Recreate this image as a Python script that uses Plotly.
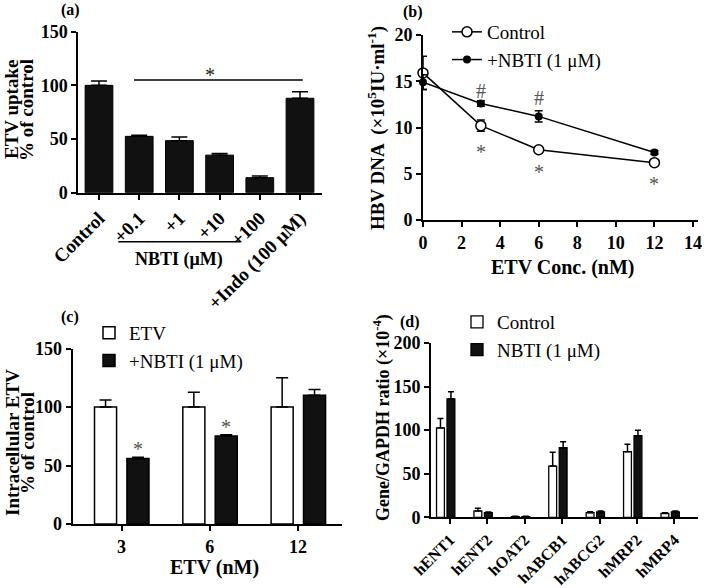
import plotly.graph_objects as go

# ---------------- data ----------------
a_categories = ["Control", "+0.1", "+1", "+10", "+100", "+Indo (100 μM)"]
a_values = [100, 52.5, 48.5, 35, 14, 88]
a_err = [4, 1, 3.5, 1.5, 1.5, 6]

b_conc = [0, 3, 6, 12]
b_control = [15.9, 10.2, 7.6, 6.2]
b_control_err = [1.8, 0.6, 0.2, 0.2]
b_nbti = [14.9, 12.6, 11.2, 7.3]
b_nbti_err = [0.8, 0.3, 0.6, 0.2]

c_categories = ["3", "6", "12"]
c_etv = [100, 100, 100]
c_etv_err = [6, 12.5, 25]
c_nbti = [56, 75.2, 110]
c_nbti_err = [1, 1, 5]

d_genes = ["hENT1", "hENT2", "hOAT2", "hABCB1", "hABCG2", "hMRP2", "hMRP4"]
d_control = [102.5, 7.3, 0.8, 58.8, 5.3, 75.3, 4.5]
d_control_err = [11, 3, 0.3, 15.7, 1.2, 8.4, 0.6]
d_nbti = [136, 5.3, 0.8, 79.8, 6.3, 93.6, 6.3]
d_nbti_err = [8, 0.8, 0.3, 7, 1, 6.2, 1]

W, H = 709, 588
SERIF = "Liberation Serif, Times New Roman, serif"


def px(x):
    return x / W


def py(y):
    return 1 - y / H


fig = go.Figure()

# ---------------- (a) ----------------
fig.add_trace(go.Bar(
    x=a_categories, y=a_values, width=0.69,
    marker=dict(color="#111111", line=dict(color="black", width=1)),
    error_y=dict(type="data", array=a_err, arrayminus=[0] * len(a_err), symmetric=False,
                 color="black", thickness=1.5, width=8),
    xaxis="x", yaxis="y", showlegend=False))

# ---------------- (b) ----------------
fig.add_trace(go.Scatter(
    x=b_conc, y=b_control, mode="lines+markers", name="Control",
    line=dict(color="black", width=1.5),
    marker=dict(symbol="circle", size=10, color="white", line=dict(color="black", width=1.5)),
    error_y=dict(type="data", array=b_control_err, color="black", thickness=1.5, width=4),
    cliponaxis=False, xaxis="x2", yaxis="y2", legend="legend"))
fig.add_trace(go.Scatter(
    x=b_conc, y=b_nbti, mode="lines+markers", name="+NBTI (1 μM)",
    line=dict(color="black", width=1.5),
    marker=dict(symbol="circle", size=8, color="black"),
    error_y=dict(type="data", array=b_nbti_err, color="black", thickness=1.5, width=4),
    cliponaxis=False, xaxis="x2", yaxis="y2", legend="legend"))

# ---------------- (c) ----------------
fig.add_trace(go.Bar(
    x=c_categories, y=c_etv, name="ETV", width=0.25, offset=-0.306,
    marker=dict(color="white", line=dict(color="black", width=1.5)),
    error_y=dict(type="data", array=c_etv_err, arrayminus=[0] * 3, symmetric=False,
                 color="black", thickness=1.5, width=6),
    xaxis="x3", yaxis="y3", legend="legend2"))
fig.add_trace(go.Bar(
    x=c_categories, y=c_nbti, name="+NBTI (1 μM)", width=0.25, offset=0.061,
    marker=dict(color="#111111", line=dict(color="black", width=1.5)),
    error_y=dict(type="data", array=c_nbti_err, arrayminus=[0] * 3, symmetric=False,
                 color="black", thickness=1.5, width=6),
    xaxis="x3", yaxis="y3", legend="legend2"))

# ---------------- (d) ----------------
fig.add_trace(go.Bar(
    x=d_genes, y=d_control, name="Control", width=0.21, offset=-0.36,
    marker=dict(color="white", line=dict(color="black", width=1.3)),
    error_y=dict(type="data", array=d_control_err, arrayminus=[0] * 7, symmetric=False,
                 color="black", thickness=1.5, width=3),
    xaxis="x4", yaxis="y4", legend="legend3"))
fig.add_trace(go.Bar(
    x=d_genes, y=d_nbti, name="NBTI (1 μM)", width=0.21, offset=-0.08,
    marker=dict(color="#111111", line=dict(color="black", width=1.3)),
    error_y=dict(type="data", array=d_nbti_err, arrayminus=[0] * 7, symmetric=False,
                 color="black", thickness=1.5, width=3),
    xaxis="x4", yaxis="y4", legend="legend3"))

tickfont = dict(family=SERIF, size=18, color="black", weight="bold")
axis_common = dict(showline=True, linecolor="black", linewidth=2, ticks="outside",
                   ticklen=5, tickwidth=2, tickcolor="black", showgrid=False,
                   zeroline=False, tickfont=tickfont, fixedrange=True, automargin=False)

legend_font = dict(family=SERIF, size=19, color="black", weight="normal")

fig.update_layout(
    width=W, height=H,
    margin=dict(l=0, r=0, t=0, b=0, autoexpand=False),
    paper_bgcolor="white", plot_bgcolor="white",
    barmode="group",
    font=dict(family=SERIF, color="black"),
    xaxis=dict(axis_common, domain=[px(78.3), px(321.7)], anchor="y", type="category",
               range=[-0.515, 5.54], tickangle=-45, tickfont=dict(tickfont, size=19)),
    yaxis=dict(axis_common, domain=[py(192.7), py(31.7)], anchor="x",
               range=[0, 150], dtick=50),
    xaxis2=dict(axis_common, domain=[px(423), px(698)], anchor="y2",
                range=[0, 14.26], dtick=2),
    yaxis2=dict(axis_common, domain=[py(220), py(35)], anchor="x2",
                range=[0, 20], dtick=5),
    xaxis3=dict(axis_common, domain=[px(72.7), px(342)], anchor="y3", type="category",
                range=[-0.553, 2.497]),
    yaxis3=dict(axis_common, domain=[py(524), py(348.5)], anchor="x3",
                range=[0, 150], dtick=50),
    xaxis4=dict(axis_common, domain=[px(431), px(698)], anchor="y4", type="category",
                range=[-0.508, 6.63], tickangle=-45, tickfont=dict(tickfont, size=16)),
    yaxis4=dict(axis_common, domain=[py(517.3), py(343)], anchor="x4",
                range=[0, 200], dtick=50),
    legend=dict(x=px(447), y=py(13), xanchor="left", yanchor="top", font=legend_font,
                bgcolor="rgba(0,0,0,0)", tracegroupgap=0, itemclick=False),
    legend2=dict(x=px(89), y=py(314), xanchor="left", yanchor="top", font=legend_font,
                 bgcolor="rgba(0,0,0,0)", tracegroupgap=0, itemclick=False),
    legend3=dict(x=px(457), y=py(303), xanchor="left", yanchor="top", font=legend_font,
                 bgcolor="rgba(0,0,0,0)", tracegroupgap=0, itemclick=False),
)

bold = dict(family=SERIF, size=19, color="black", weight="bold")
ann = []
# panel labels
for lab, x, y in [("(a)", 70, 10), ("(b)", 413, 12), ("(c)", 70, 317), ("(d)", 410, 322)]:
    ann.append(dict(text=lab, x=px(x), y=py(y), xref="paper", yref="paper", showarrow=False,
                    font=dict(bold, size=16), xanchor="center", yanchor="middle"))
# axis titles (rotated, one annotation per line for tight line spacing)
for t, x, y in [("ETV uptake", 12, 110), ("% of control", 27, 110),
                ("Intracellular ETV", 12, 443), ("% of control", 27, 443)]:
    ann.append(dict(text=t, x=px(x), y=py(y), xref="paper", yref="paper",
                    textangle=-90, showarrow=False, font=bold,
                    xanchor="center", yanchor="middle"))
ann.append(dict(text="HBV DNA  (×10<sup>5</sup>IU·ml<sup>-1</sup>)", x=px(376), y=py(128),
                xref="paper", yref="paper", textangle=-90, showarrow=False, font=bold,
                xanchor="center", yanchor="middle"))
ann.append(dict(text="Gene/GAPDH ratio (×10<sup>-4</sup>)", x=px(382), y=py(418), xref="paper",
                yref="paper", textangle=-90, showarrow=False, font=dict(bold, size=18),
                xanchor="center", yanchor="middle"))
ann.append(dict(text="ETV Conc. (nM)", x=px(563), y=py(267), xref="paper", yref="paper",
                showarrow=False, font=dict(bold, size=20), xanchor="center", yanchor="middle"))
ann.append(dict(text="ETV (nM)", x=px(215), y=py(567), xref="paper", yref="paper",
                showarrow=False, font=dict(bold, size=20), xanchor="center", yanchor="middle"))
ann.append(dict(text="NBTI (μM)", x=px(179), y=py(259), xref="paper", yref="paper",
                showarrow=False, font=dict(bold, size=18), xanchor="center", yanchor="middle"))
# significance marks
ann.append(dict(text="*", x=2.77, y=110, xref="x", yref="y", showarrow=False,
                font=dict(family=SERIF, size=20, color="#222222"), yanchor="middle"))
grey = dict(family=SERIF, size=20, color="#555555")
for x, y, t in [(3, 14.0, "#"), (6, 13.2, "#"), (3, 7.4, "*"), (6, 5.2, "*"), (12, 3.9, "*")]:
    ann.append(dict(text=t, x=x, y=y, xref="x2", yref="y2", showarrow=False, font=grey,
                    yanchor="middle"))
for x, y in [(0.186, 64), (1.186, 83)]:
    ann.append(dict(text="*", x=x, y=y, xref="x3", yref="y3", showarrow=False, font=grey,
                    yanchor="middle"))
fig.update_layout(annotations=ann)

# shapes: significance bar (a) and NBTI bracket
fig.add_shape(type="line", x0=0.87, x1=5.07, y0=105, y1=105, xref="x", yref="y",
              line=dict(color="black", width=1.5))
fig.add_shape(type="line", x0=px(118.3), x1=px(240), y0=py(241.7), y1=py(241.7),
              xref="paper", yref="paper", line=dict(color="black", width=1.5))

fig.write_html(
    "out.html",
    config={"displayModeBar": False},
    post_script="document.body.style.margin='0';document.body.style.overflow='hidden';",
)
